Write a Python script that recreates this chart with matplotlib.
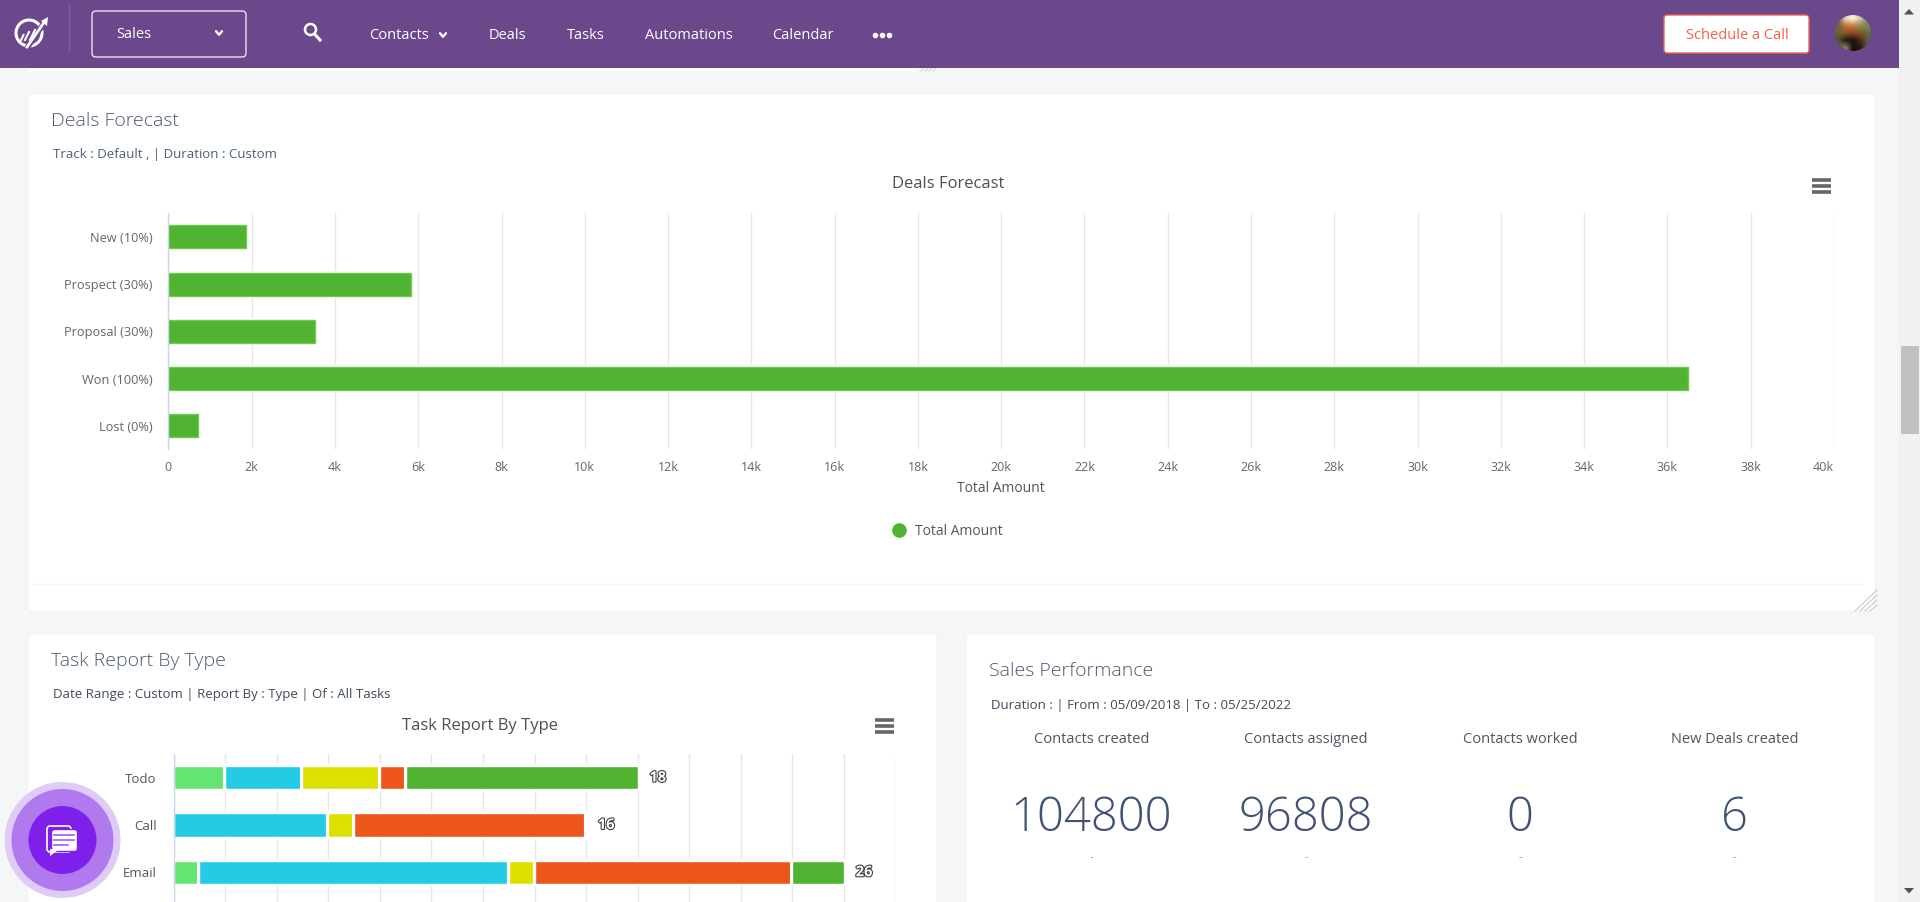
import matplotlib
matplotlib.use('Agg')
import matplotlib.pyplot as plt
import matplotlib.patheffects as pe
from matplotlib.lines import Line2D
from matplotlib.patches import Circle, FancyBboxPatch, Rectangle, Polygon
import numpy as np

# Constants
WIDTH = 1920
HEIGHT = 902
GRID = '#e6e6e6'
AXIS = '#ccd6eb'
LABEL = '#666666'
CARD_TEXT = '#4d5a6c'

plt.rcParams['font.family'] = ['Open Sans', 'DejaVu Sans']

# Deals forecast data
deal_stages = ['New (10%)', 'Prospect (30%)', 'Proposal (30%)', 'Won (100%)', 'Lost (0%)']
deal_amounts = [1860, 5820, 3510, 36500, 720]
deal_ticks = list(range(0, 40001, 2000))

# Task report data, one list per stacked series
task_types = ['Todo', 'Call', 'Email']
task_series_1 = [2, 0, 1]
task_series_2 = [3, 6, 12]
task_series_3 = [3, 1, 1]
task_series_4 = [1, 9, 10]
task_series_5 = [9, 0, 2]
task_colors = ['#64e572', '#24cbe5', '#dddf00', '#ed561b', '#50b432']
task_ticks = list(range(0, 29, 2))

# Sales performance tiles
perf_labels = ['Contacts created', 'Contacts assigned', 'Contacts worked', 'New Deals created']
perf_values = ['104800', '96808', '0', '6']

# Menu entries
nav_items = ['Contacts', 'Deals', 'Tasks', 'Automations', 'Calendar']
nav_x = [369, 489, 567, 645, 772]


def px_axes(fig, left, top, right, bottom):
    """Add axes placed with pixel edges measured from the top left."""
    return fig.add_axes([left / WIDTH, 1 - bottom / HEIGHT,
                         (right - left) / WIDTH, (bottom - top) / HEIGHT])


def card(ax, left, top, right, bottom):
    ax.add_patch(FancyBboxPatch((left + 3, top + 3), right - left - 6, bottom - top - 6,
                                boxstyle='round,pad=3,rounding_size=4',
                                fc='white', ec='#f1f3f5', lw=0.8, zorder=1))


def chevron(ax, x, y, color='white', size=3):
    ax.plot([x - size, x, x + size], [y - size * 0.6, y + size * 0.6, y - size * 0.6],
            color=color, lw=1.7, zorder=4, solid_capstyle='round')


def hamburger(ax, left, right, top):
    for offset in [2, 8, 14]:
        ax.plot([left, right], [top + offset, top + offset], color='#666666',
                lw=2.6, solid_capstyle='butt', zorder=4)


def style_axes(ax):
    for name in ['top', 'right', 'bottom']:
        ax.spines[name].set_visible(False)
    ax.spines['left'].set_color(AXIS)
    ax.spines['left'].set_linewidth(1)
    ax.set_facecolor('none')
    ax.set_axisbelow(True)
    ax.grid(axis='x', color=GRID, linewidth=1)
    ax.tick_params(length=0)


fig = plt.figure(figsize=(WIDTH / 100, HEIGHT / 100), dpi=100, facecolor='#f4f6f8')

# Page chrome is drawn in pixel coordinates
bg = fig.add_axes([0, 0, 1, 1])
bg.set_xlim(0, WIDTH)
bg.set_ylim(HEIGHT, 0)
bg.axis('off')

bg.add_patch(Rectangle((28, 68), 889, 3, fc='white', ec='none', zorder=1))
for x in [921, 925, 929, 933]:
    bg.plot([x, x + 3], [71, 68], color='#c8c8c8', lw=0.6, zorder=1)

card(bg, 28, 94, 1875, 611)
card(bg, 28, 634, 937, 930)
card(bg, 966, 634, 1875, 930)

# Scrollbar
bg.add_patch(Rectangle((1899, 0), 21, HEIGHT, fc='#f1f1f1', ec='none', zorder=1))
bg.add_patch(Rectangle((1901, 346), 18, 88, fc='#c1c1c1', ec='none', zorder=2))
bg.add_patch(Polygon([[1904, 14.5], [1914, 14.5], [1909, 9]], fc='#50505f', ec='none', zorder=2))
bg.add_patch(Polygon([[1904, 888], [1914, 888], [1909, 893.5]], fc='#50505f', ec='none', zorder=2))

# Top navigation
bg.add_patch(Rectangle((0, 0), 1899, 68, fc='#6b488c', ec='none', zorder=2))
bg.plot([69, 69], [4, 52], color='#7d5d9b', lw=1, zorder=3)
bg.add_patch(FancyBboxPatch((95, 14), 148, 40, boxstyle='round,pad=3,rounding_size=4',
                            fc='none', ec='#e8e2ee', lw=1, zorder=3))
bg.text(116, 35, 'Sales', color='white', fontsize=10.5, va='center', zorder=4)
chevron(bg, 219, 33)

# Logo
bg.add_patch(Circle((29, 33), 13, fc='none', ec='white', lw=2.2, zorder=3))
bg.plot([27, 46], [48, 20], color='#6b488c', lw=4, zorder=3)
bg.plot([27, 45], [47, 21], color='white', lw=2, zorder=4)
bg.add_patch(Polygon([[41, 21], [48, 17], [47, 26]], fc='white', ec='none', zorder=4))
for x, length in [(21, 5), (25, 8), (30, 10)]:
    bg.plot([x, x + length * 0.5], [40, 40 - length], color='white', lw=1.5, zorder=4)

# Search icon
bg.add_patch(Circle((310.5, 29.5), 5.5, fc='none', ec='white', lw=1.8, zorder=4))
bg.plot([314.5, 320], [34, 40], color='white', lw=2.2, zorder=4)

for label, x in zip(nav_items, nav_x):
    bg.text(x, 35.5, label, color='white', fontsize=10.5, va='center', zorder=4)
chevron(bg, 443, 35)
bg.scatter([875, 882, 889], [35, 35, 35], s=16, color='white', zorder=4, linewidths=0)

bg.add_patch(FancyBboxPatch((1666, 17), 141, 34, boxstyle='round,pad=2,rounding_size=3',
                            fc='white', ec='#f4604c', lw=1, zorder=3))
bg.text(1737, 35.5, 'Schedule a Call', color='#f4604c', fontsize=10.5,
        ha='center', va='center', zorder=4)

# Avatar
avatar_pixels = [
    [[0.45, 0.42, 0.30], [0.92, 0.84, 0.72], [0.98, 0.94, 0.88], [0.84, 0.78, 0.66], [0.52, 0.52, 0.38]],
    [[0.42, 0.40, 0.24], [0.76, 0.46, 0.22], [0.80, 0.48, 0.22], [0.56, 0.54, 0.32], [0.50, 0.52, 0.34]],
    [[0.38, 0.40, 0.22], [0.58, 0.32, 0.14], [0.54, 0.28, 0.12], [0.52, 0.32, 0.14], [0.40, 0.42, 0.26]],
    [[0.30, 0.34, 0.16], [0.14, 0.10, 0.07], [0.10, 0.07, 0.05], [0.30, 0.16, 0.08], [0.36, 0.38, 0.22]],
    [[0.42, 0.38, 0.26], [0.56, 0.50, 0.40], [0.08, 0.06, 0.05], [0.12, 0.09, 0.07], [0.32, 0.32, 0.22]],
]
avatar = bg.imshow(avatar_pixels, extent=(1835, 1871, 51, 15), interpolation='bilinear', zorder=4)
avatar.set_clip_path(Circle((1853, 33), 18, transform=bg.transData))
bg.set_xlim(0, WIDTH)
bg.set_ylim(HEIGHT, 0)
bg.set_aspect('auto')

# Deals Forecast card
bg.text(51, 120.5, 'Deals Forecast', color=CARD_TEXT, fontsize=14, fontweight='light', va='center', zorder=3)
bg.text(53, 154.5, 'Track : Default , | Duration : Custom', color='#4a5f78', fontsize=9.5,
        va='center', zorder=3)
bg.text(948, 184.5, 'Deals Forecast', color='#4f4f4f', fontsize=12, ha='center', va='center', zorder=3)
hamburger(bg, 1812, 1831, 178)

deals_ax = px_axes(fig, 168.4, 213.3, 1834, 449.3)
style_axes(deals_ax)
deals_ax.barh(range(len(deal_stages)), deal_amounts, height=0.49, color='#50b432',
              edgecolor='#6ccb50', linewidth=1,
              path_effects=[pe.withStroke(linewidth=3, foreground='white')])
deals_ax.set_xlim(0, 40000)
deals_ax.set_ylim(len(deal_stages) - 0.5, -0.5)
deals_ax.set_yticks(range(len(deal_stages)))
deals_ax.set_yticklabels(deal_stages, color=LABEL, fontsize=9.2)
deals_ax.tick_params(axis='y', pad=11.5)
deals_ax.set_xticks(deal_ticks)
deal_tick_labels = ['0' if t == 0 else f'{t // 1000}k' for t in deal_ticks]
deals_ax.set_xticklabels(deal_tick_labels, color=LABEL, fontsize=9)
deals_ax.tick_params(axis='x', pad=8.5)
deals_ax.get_xticklabels()[-1].set_ha('right')
deals_ax.set_xlabel('Total Amount', color='#555555', fontsize=10, labelpad=5)

legend_handle = Line2D([], [], marker='o', linestyle='none', markersize=9.5, color='#50b432')
deals_ax.legend([legend_handle], ['Total Amount'], loc='center', frameon=False, fontsize=10,
                labelcolor='#555555', handletextpad=0.2,
                bbox_to_anchor=(944, 531.5), bbox_transform=bg.transData)

bg.plot([32, 1862], [584, 584], color='#f6f6f6', lw=1, zorder=2)
for offset in [0, 5, 10, 15]:
    bg.plot([1855 + offset, 1877], [611, 590 + offset], color='#c4c4c4', lw=0.7, zorder=2)

# Task Report card
bg.text(51, 660.5, 'Task Report By Type', color=CARD_TEXT, fontsize=14, fontweight='light', va='center', zorder=3)
bg.text(53, 694.5, 'Date Range : Custom | Report By : Type | Of : All Tasks', color='#3f4a5a',
        fontsize=9.5, va='center', zorder=3)
bg.text(479.5, 725.5, 'Task Report By Type', color='#4f4f4f', fontsize=12, ha='center', va='center',
        zorder=3)
hamburger(bg, 874.5, 893.5, 718)

task_ax = px_axes(fig, 173.5, 754, 895.5, HEIGHT)
style_axes(task_ax)
task_series = [task_series_1, task_series_2, task_series_3, task_series_4, task_series_5]
left_edge = np.zeros(len(task_types))
for values, color in zip(task_series, task_colors):
    task_ax.barh(range(len(task_types)), values, left=left_edge, height=0.49, color=color,
                 edgecolor='white', linewidth=1,
                 path_effects=[pe.withStroke(linewidth=3, foreground='white')])
    left_edge = left_edge + np.array(values)
for i, total in enumerate(left_edge):
    task_ax.annotate(f'{int(total)}', (total, i), xytext=(8.5, 0), textcoords='offset points',
                     color='white', fontsize=10.5, fontweight='bold', ha='left', va='center',
                     path_effects=[pe.withStroke(linewidth=1.6, foreground='#404040')])
task_ax.set_xlim(0, 28)
task_ax.set_ylim(2.63, -0.5)
task_ax.set_xticks(task_ticks)
task_ax.tick_params(axis='x', labelbottom=False)
task_ax.set_yticks(range(len(task_types)))
task_ax.set_yticklabels(task_types, color='#555555', fontsize=9.5)
task_ax.tick_params(axis='y', pad=12)

# Sales Performance card
bg.text(989, 671.5, 'Sales Performance', color=CARD_TEXT, fontsize=14, fontweight='light', va='center', zorder=3)
bg.text(991, 705.5, 'Duration : | From : 05/09/2018 | To : 05/25/2022', color='#3f4a5a',
        fontsize=9.5, va='center', zorder=3)
perf_x = [1091.6, 1306, 1520, 1734.6]
for x, label, value in zip(perf_x, perf_labels, perf_values):
    bg.text(x, 739.5, label, color='#4d5560', fontsize=10.5, ha='center', va='center', zorder=3)
    bg.text(x, 819, value, color='#3f5273', fontsize=34, fontweight='light', ha='center',
            va='center', zorder=3)
    bg.text(x, 858, '-', color='#8a8f98', fontsize=8, ha='center', va='center', zorder=3)

# Floating chat button
bg.add_patch(Circle((62.5, 840), 58, fc='#e0caf6', ec='none', zorder=5))
bg.add_patch(Circle((62.5, 840), 51, fc='#b07aee', ec='none', zorder=5))
bg.add_patch(Circle((62.5, 840), 34, fc='#7e1fec', ec='none', zorder=5))
bg.add_patch(FancyBboxPatch((48, 827), 22, 24, boxstyle='round,pad=1,rounding_size=3',
                            fc='none', ec='white', lw=1.2, zorder=6))
bg.add_patch(FancyBboxPatch((53, 831), 23, 19, boxstyle='round,pad=1.5,rounding_size=3',
                            fc='white', ec='#7e1fec', lw=1, zorder=6))
bg.add_patch(Polygon([[50, 849], [58, 850], [50, 856]], fc='white', ec='none', zorder=6))
for y, end in [(835, 74), (840, 74), (845, 68)]:
    bg.plot([54, end], [y, y], color='#a05cf0', lw=1.2, zorder=7)

fig.savefig('out.png', dpi=100, facecolor=fig.get_facecolor())
